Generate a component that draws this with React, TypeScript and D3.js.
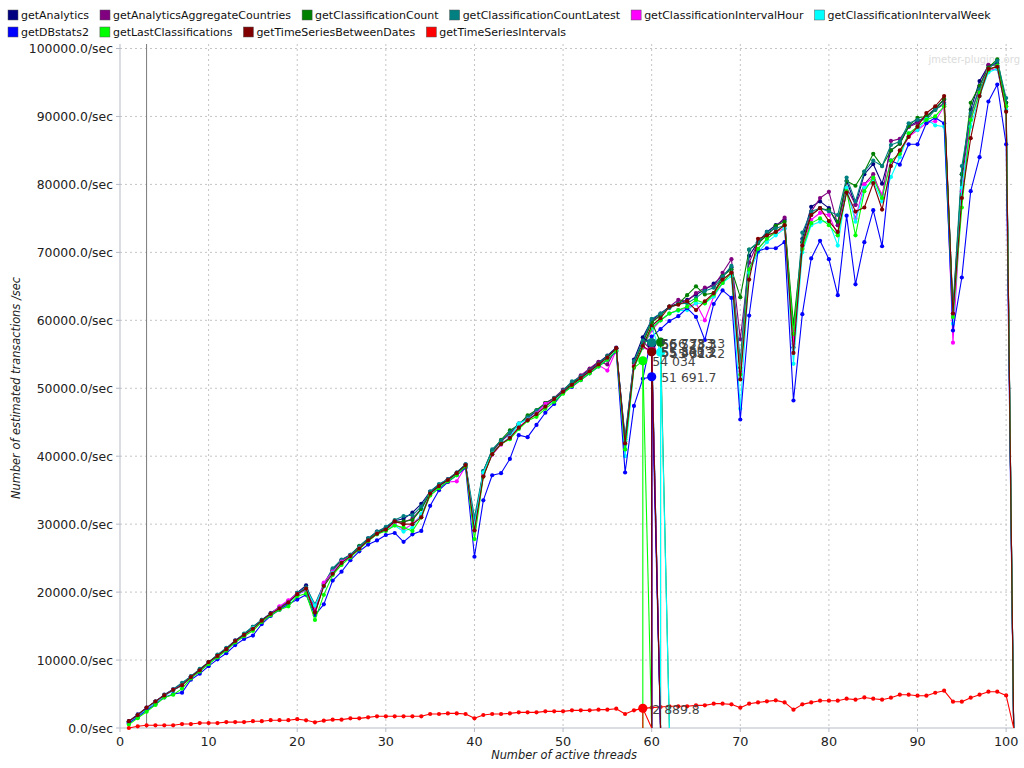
import React from 'react';
import * as d3 from 'd3';

// ---------- data ----------
const threads = d3.range(1, 101); // number of active threads 1..100
const lastThread = 100.85; // final zeroing point of every series

const seriesNames = [
  'getAnalytics',
  'getAnalyticsAggregateCountries',
  'getClassificationCount',
  'getClassificationCountLatest',
  'getClassificationIntervalHour',
  'getClassificationIntervalWeek',
  'getDBstats2',
  'getLastClassifications',
  'getTimeSeriesBetweenDates',
  'getTimeSeriesIntervals',
];

const seriesColors = [
  '#000080', '#800080', '#008000', '#008080', '#ff00ff',
  '#00ffff', '#0000ff', '#00ff00', '#800000', '#ff0000',
];

// values in thousands of transactions / sec, for threads 1..100
const getAnalytics = [
  1.0, 2.0, 3.0, 3.9, 4.9, 5.7, 6.5, 7.6, 8.6, 9.7,
  10.7, 11.7, 12.9, 13.8, 14.9, 15.9, 16.9, 17.8, 18.6, 19.9,
  21.0, 17.6, 21.2, 23.3, 24.7, 25.5, 26.7, 27.9, 28.9, 29.5,
  30.5, 30.8, 31.7, 33.0, 34.8, 35.8, 36.6, 37.6, 38.8, 30.0,
  37.8, 40.8, 42.3, 43.4, 44.8, 45.6, 46.6, 47.8, 48.5, 49.7,
  50.8, 51.7, 52.8, 53.8, 54.8, 56.0, 42.5, 54.2, 57.5, 60.0,
  61.0, 62.0, 62.5, 63.0, 63.8, 64.5, 65.4, 66.5, 67.8, 53.0,
  69.5, 71.5, 73.0, 74.0, 74.8, 56.0, 72.0, 76.7, 77.5, 76.5,
  74.0, 80.5, 77.0, 81.5, 83.0, 80.1, 85.0, 86.0, 88.5, 89.3,
  90.0, 91.2, 92.5, 61.0, 81.5, 91.0, 95.2, 97.5, 97.8, 92.0,
];
const getAnalyticsAggregateCountries = [
  0.9, 1.9, 2.9, 3.9, 4.8, 5.6, 6.4, 7.5, 8.5, 9.6,
  10.6, 11.6, 12.7, 13.6, 14.7, 15.7, 16.8, 17.8, 18.7, 19.8,
  20.6, 17.2, 21.2, 23.2, 24.6, 25.4, 26.6, 27.6, 28.7, 29.4,
  30.3, 30.3, 30.8, 32.3, 34.6, 35.7, 36.6, 37.4, 38.7, 29.8,
  37.4, 40.6, 42.2, 43.3, 44.7, 45.8, 46.6, 47.8, 48.6, 49.8,
  50.8, 51.9, 52.9, 53.9, 53.5, 55.9, 42.2, 53.8, 56.9, 59.8,
  60.8, 62.0, 63.0, 62.8, 64.0, 64.8, 65.0, 67.0, 69.0, 57.2,
  68.5, 71.5, 72.5, 73.8, 75.1, 57.0, 71.5, 76.0, 78.0, 78.9,
  74.0, 79.5, 77.0, 80.0, 81.5, 78.0, 86.4, 86.7, 88.5, 89.0,
  90.0, 91.0, 92.0, 60.5, 80.5, 90.0, 94.5, 97.6, 97.5, 91.5,
];
const getClassificationCount = [
  0.8, 1.8, 2.8, 3.8, 4.8, 5.6, 6.3, 7.5, 8.6, 9.6,
  10.7, 11.6, 12.7, 13.6, 14.8, 15.8, 16.7, 17.6, 18.4, 19.7,
  20.3, 16.8, 21.0, 23.2, 24.6, 25.4, 26.8, 27.8, 28.8, 29.3,
  30.3, 30.4, 30.6, 32.2, 34.6, 35.6, 36.5, 37.5, 38.7, 29.6,
  37.7, 40.8, 42.4, 43.8, 44.6, 46.0, 46.8, 47.8, 48.5, 49.6,
  50.7, 51.6, 52.6, 53.6, 54.7, 55.8, 41.7, 53.6, 56.7, 59.7,
  60.7, 62.0, 62.4, 63.7, 65.0, 63.8, 64.0, 66.5, 67.5, 63.4,
  70.4, 71.3, 72.5, 73.9, 74.5, 59.4, 71.5, 75.5, 76.5, 76.2,
  74.5, 80.5, 79.8, 81.9, 84.5, 82.7, 85.0, 86.0, 88.6, 89.8,
  90.0, 91.0, 92.6, 61.5, 81.5, 92.0, 94.5, 97.2, 98.4, 92.0,
];
const getClassificationCountLatest = [
  0.9, 1.9, 2.9, 3.9, 4.8, 5.7, 6.65, 7.6, 8.7, 9.7,
  10.8, 11.8, 12.8, 13.9, 14.9, 15.9, 16.8, 17.7, 18.6, 19.9,
  20.7, 18.2, 21.2, 23.5, 24.8, 25.5, 26.7, 27.9, 28.9, 29.6,
  30.6, 31.2, 31.3, 32.6, 34.8, 35.9, 36.6, 37.6, 38.8, 31.0,
  37.8, 41.0, 42.3, 43.5, 44.8, 45.7, 46.7, 47.6, 48.5, 49.7,
  51.0, 51.7, 52.6, 53.6, 54.7, 55.8, 42.8, 54.0, 57.0, 60.2,
  61.0, 61.8, 62.4, 62.5, 63.3, 64.3, 64.8, 66.4, 68.0, 54.0,
  70.4, 71.5, 73.0, 73.5, 74.0, 57.5, 72.9, 76.0, 76.5, 76.0,
  75.5, 81.0, 77.5, 81.9, 83.5, 82.7, 85.8, 86.3, 89.0, 89.5,
  89.5, 91.0, 91.8, 61.8, 82.7, 90.5, 94.0, 97.0, 98.2, 92.7,
];
const getClassificationIntervalHour = [
  0.8, 1.8, 2.8, 3.8, 4.7, 5.6, 6.3, 7.4, 8.4, 9.5,
  10.5, 11.5, 12.6, 13.5, 14.6, 15.6, 16.7, 17.9, 18.8, 19.7,
  20.2, 17.4, 21.4, 23.0, 24.5, 25.3, 26.4, 27.5, 28.6, 29.1,
  30.0, 29.2, 30.0, 31.3, 34.3, 35.3, 36.2, 36.3, 38.5, 29.0,
  37.2, 40.2, 41.7, 42.8, 44.2, 45.4, 46.3, 47.7, 48.3, 49.5,
  50.4, 51.4, 52.5, 53.4, 52.6, 55.6, 41.0, 53.3, 56.0, 58.5,
  60.0, 61.0, 61.5, 61.8, 62.5, 60.0, 63.5, 65.5, 67.0, 52.5,
  67.5, 70.5, 72.0, 73.0, 73.5, 56.5, 70.5, 74.8, 75.8, 75.5,
  72.5, 79.0, 75.0, 80.0, 81.0, 78.5, 83.5, 84.5, 87.0, 88.0,
  89.0, 89.3, 91.5, 56.7, 79.0, 89.5, 93.5, 96.8, 97.0, 91.0,
];
const getClassificationIntervalWeek = [
  0.8, 1.8, 2.8, 3.8, 4.7, 5.5, 6.3, 7.4, 8.4, 9.5,
  10.5, 11.5, 12.6, 13.6, 14.7, 15.7, 16.7, 17.6, 18.4, 19.6,
  20.4, 18.0, 20.8, 22.8, 24.3, 25.2, 26.4, 27.5, 28.6, 29.1,
  29.8, 28.9, 29.5, 31.5, 34.3, 35.4, 36.4, 37.3, 38.6, 29.8,
  37.6, 40.4, 41.8, 42.8, 44.8, 45.4, 46.2, 47.3, 48.2, 49.4,
  50.4, 51.3, 52.3, 53.3, 54.3, 55.6, 40.0, 53.0, 56.0, 59.0,
  60.0, 61.0, 61.4, 61.5, 62.5, 62.5, 63.5, 65.5, 66.5, 47.0,
  67.0, 70.0, 71.5, 72.5, 73.5, 53.6, 70.0, 74.0, 74.5, 74.5,
  71.0, 79.5, 74.5, 79.5, 80.5, 77.5, 81.1, 84.0, 87.5, 88.0,
  89.6, 88.7, 88.5, 59.5, 79.5, 88.5, 93.0, 96.5, 97.0, 91.0,
];
const getDBstats2 = [
  0.7, 1.6, 2.6, 3.5, 4.5, 5.0, 5.2, 7.1, 8.0, 9.1,
  10.1, 11.0, 12.2, 13.1, 13.6, 15.3, 16.5, 17.4, 18.2, 18.9,
  19.6, 16.6, 18.2, 21.7, 23.0, 24.7, 26.0, 27.0, 27.6, 28.4,
  28.7, 27.4, 28.5, 29.0, 32.7, 35.0, 36.2, 37.2, 38.3, 25.2,
  33.5, 37.2, 37.5, 39.6, 43.1, 42.8, 44.6, 46.4, 47.7, 49.4,
  50.2, 51.2, 52.2, 53.2, 54.2, 55.4, 37.6, 47.4, 51.4, 57.6,
  58.7, 59.9, 60.6, 61.8, 60.5, 57.1, 62.4, 64.4, 63.3, 45.4,
  60.7, 70.2, 70.6, 70.6, 71.5, 48.2, 60.9, 69.1, 71.7, 69.0,
  63.7, 75.4, 65.3, 71.5, 76.2, 70.9, 83.5, 82.9, 85.9, 85.9,
  89.0, 89.8, 89.0, 58.5, 66.3, 79.0, 84.0, 92.2, 94.7, 85.9,
];
const getLastClassifications = [
  0.5, 1.45, 2.4, 3.4, 4.5, 4.9, 5.8, 7.3, 8.3, 9.4,
  10.4, 11.4, 12.6, 13.5, 14.3, 15.6, 16.6, 17.4, 17.9, 19.4,
  19.8, 15.9, 19.6, 22.5, 24.0, 25.1, 26.3, 27.5, 28.5, 29.0,
  29.8, 29.5, 29.0, 31.0, 34.2, 35.3, 36.3, 37.2, 38.5, 27.8,
  37.0, 40.3, 41.8, 42.5, 44.0, 45.2, 45.8, 47.0, 48.0, 49.2,
  50.3, 51.2, 52.2, 53.2, 54.2, 55.5, 41.0, 53.0, 56.0, 58.8,
  60.0, 61.0, 61.5, 62.0, 63.0, 62.5, 63.8, 65.5, 67.0, 52.0,
  67.5, 70.5, 72.0, 73.0, 74.0, 58.0, 70.5, 74.3, 75.0, 74.0,
  72.5, 79.0, 72.5, 79.0, 81.0, 78.0, 83.5, 84.5, 87.5, 88.5,
  89.5, 90.0, 91.5, 60.5, 76.6, 89.5, 93.5, 96.8, 97.5, 91.5,
];
const getTimeSeriesBetweenDates = [
  1.0, 1.9, 3.0, 3.9, 4.8, 5.6, 6.3, 7.5, 8.5, 9.7,
  10.6, 11.6, 12.8, 13.7, 14.6, 15.8, 16.8, 17.6, 18.5, 19.7,
  20.5, 17.0, 20.9, 22.7, 24.3, 25.3, 26.4, 27.6, 28.6, 29.2,
  30.4, 30.0, 30.0, 31.0, 34.5, 35.6, 36.5, 37.5, 38.7, 29.1,
  37.0, 40.3, 41.8, 42.7, 44.2, 45.3, 46.2, 47.3, 48.4, 49.5,
  50.5, 51.5, 52.5, 53.5, 54.5, 55.9, 41.9, 53.2, 56.2, 59.2,
  60.3, 62.0, 62.3, 62.8, 61.5, 62.8, 64.0, 66.0, 67.0, 51.3,
  66.0, 72.0, 72.5, 73.0, 74.0, 55.2, 71.0, 75.5, 76.5, 74.6,
  73.0, 78.8, 76.0, 76.6, 80.2, 76.3, 82.7, 85.0, 87.0, 88.5,
  90.5, 91.5, 93.0, 61.0, 78.0, 86.8, 93.0, 97.0, 97.3, 90.7,
];
const getTimeSeriesIntervals = [
  0.0, 0.25, 0.4, 0.4, 0.4, 0.4, 0.58, 0.58, 0.73, 0.73,
  0.73, 0.87, 0.87, 0.87, 1.0, 1.0, 1.15, 1.15, 1.15, 1.3,
  1.13, 0.84, 1.08, 1.23, 1.23, 1.42, 1.42, 1.57, 1.72, 1.72,
  1.72, 1.72, 1.72, 1.72, 2.06, 2.06, 2.15, 2.15, 2.06, 1.42,
  1.91, 2.06, 2.06, 2.15, 2.3, 2.3, 2.3, 2.45, 2.45, 2.45,
  2.6, 2.6, 2.6, 2.7, 2.7, 2.84, 2.06, 2.6, 2.89, 3.0,
  3.09, 3.19, 3.19, 3.19, 3.33, 3.33, 3.58, 3.58, 3.48, 2.99,
  3.58, 3.77, 3.92, 4.07, 3.77, 2.7, 3.48, 3.77, 4.02, 4.02,
  4.02, 4.31, 4.17, 4.5, 4.31, 4.17, 4.46, 4.9, 4.9, 4.75,
  4.75, 5.19, 5.49, 3.87, 3.87, 4.46, 4.9, 5.34, 5.34, 4.8,
];

const seriesValuesK = [
  getAnalytics,
  getAnalyticsAggregateCountries,
  getClassificationCount,
  getClassificationCountLatest,
  getClassificationIntervalHour,
  getClassificationIntervalWeek,
  getDBstats2,
  getLastClassifications,
  getTimeSeriesBetweenDates,
  getTimeSeriesIntervals,
];

// highlighted values (big markers with labels) and the thread count where they sit
const markerThreads = [60, 60, 61, 60, 60, 61, 60, 59, 60, 59];
const markerValues = [56523.3, 55540.1, 56783.3, 56733.3, 55403.2, 55313.2, 51691.7, 54034, 55362.2, 2889.8];

const yTickValues = [0, 10000, 20000, 30000, 40000, 50000, 60000, 70000, 80000, 90000, 100000];
const xTickValues = [0, 10, 20, 30, 40, 50, 60, 70, 80, 90, 100];
const cursorThread = 3;

// ---------- helpers ----------
const FONT = '"DejaVu Sans", Verdana, sans-serif';

function fmtValue(v: number): string {
  const s = d3.format(',.1f')(v).replace(/,/g, ' ');
  return s.endsWith('.0') ? s.slice(0, -2) : s;
}

function legendLayout() {
  let ctx: CanvasRenderingContext2D | null = null;
  try {
    ctx = document.createElement('canvas').getContext('2d');
    if (ctx) ctx.font = '11px "DejaVu Sans"';
  } catch (e) {
    ctx = null;
  }
  const rows = [[0, 1, 2, 3, 4, 5], [6, 7, 8, 9]];
  const items: { i: number; sx: number; tx: number; base: number }[] = [];
  rows.forEach((row, r) => {
    let cx = 8;
    row.forEach((i) => {
      const w = ctx ? ctx.measureText(seriesNames[i]).width : seriesNames[i].length * 6.3;
      items.push({ i, sx: cx, tx: cx + 13, base: r === 0 ? 19 : 36 });
      cx += 13 + w + 11;
    });
  });
  return items;
}

export default function App() {
  const W = 1024;
  const H = 768;
  const left = 120;
  const right = 1015;
  const top = 44;
  const bottom = 728;

  const x = d3.scaleLinear().domain([0, 101]).range([left, right]);
  const y = d3.scaleLinear().domain([0, 100000]).range([bottom, 48.5]);
  const line = d3
    .line<[number, number]>()
    .x((d) => x(d[0]))
    .y((d) => y(d[1]));

  const legend = legendLayout();

  const seriesPoints = seriesValuesK.map((vals) =>
    threads.map((t, i) => [t, vals[i] * 1000] as [number, number])
  );

  return (
    <svg
      width={W}
      height={H}
      viewBox={`0 0 ${W} ${H}`}
      style={{ position: 'absolute', left: 0, top: 0, background: '#fff' }}
      fontFamily={FONT}
    >
      <rect x={0} y={0} width={W} height={H} fill="#ffffff" />

      {/* watermark */}
      <text x={1020} y={63} textAnchor="end" fontSize={10} fill="#dcdcdc">
        jmeter-plugins.org
      </text>

      {/* grid */}
      {yTickValues
        .filter((v) => v > 0)
        .map((v) => (
          <line key={'gy' + v} x1={left} x2={right} y1={y(v)} y2={y(v)} stroke="#c4c4c4" strokeDasharray="2,3" strokeWidth={1} />
        ))}
      {xTickValues
        .filter((v) => v > 0)
        .map((v) => (
          <line key={'gx' + v} x1={x(v)} x2={x(v)} y1={top} y2={bottom} stroke="#c4c4c4" strokeDasharray="2,3" strokeWidth={1} />
        ))}

      {/* cursor line */}
      <line x1={x(cursorThread)} x2={x(cursorThread)} y1={top} y2={bottom} stroke="#7a7a7a" strokeWidth={1} />

      {/* axes */}
      <line x1={left} x2={left} y1={top} y2={bottom} stroke="#b6bbc7" strokeWidth={1} />
      <line x1={left} x2={right} y1={bottom} y2={bottom} stroke="#b6bbc7" strokeWidth={1} />
      {yTickValues.map((v) => (
        <g key={'yt' + v}>
          <line x1={left - 4} x2={left} y1={y(v)} y2={y(v)} stroke="#b6bbc7" />
          <text x={113} y={y(v) + 4.5} textAnchor="end" fontSize={12.4} fill="#222">
            {`${v}.0/sec`}
          </text>
        </g>
      ))}
      {xTickValues.map((v) => (
        <g key={'xt' + v}>
          <line x1={x(v)} x2={x(v)} y1={bottom} y2={bottom + 4} stroke="#b6bbc7" />
          <text x={x(v)} y={746} textAnchor="middle" fontSize={12.8} fill="#222">
            {v}
          </text>
        </g>
      ))}

      {/* axis titles */}
      <text x={564} y={759} textAnchor="middle" fontSize={11.4} fontStyle="italic" fill="#222">
        Number of active threads
      </text>
      <text transform="translate(20,388) rotate(-90)" textAnchor="middle" fontSize={11.4} fontStyle="italic" fill="#222">
        Number of estimated transactions /sec
      </text>

      {/* series */}
      {seriesPoints.map((pts, s) => {
        const full = [...pts, [lastThread, 0] as [number, number]];
        return (
          <g key={'s' + s}>
            <path d={line(full) || ''} fill="none" stroke={seriesColors[s]} strokeWidth={1.1} strokeLinejoin="round" />
            {pts.map((p, i) => (
              <circle key={i} cx={x(p[0])} cy={y(p[1])} r={2.1} fill={seriesColors[s]} />
            ))}
          </g>
        );
      })}

      {/* drop lines from highlighted values */}
      {markerValues.map((v, s) => {
        const t = markerThreads[s];
        const prev = seriesPoints[s][t - 2];
        const p1: [number, number][] = [prev, [t, v], [t, 0]];
        const p2: [number, number][] = [[t, v], [t + 1, 0]];
        return (
          <g key={'d' + s}>
            <path d={line(p1) || ''} fill="none" stroke={seriesColors[s]} strokeWidth={1.1} />
            <path d={line(p2) || ''} fill="none" stroke={seriesColors[s]} strokeWidth={1.1} />
          </g>
        );
      })}
      {markerValues.map((v, s) => (
        <circle key={'m' + s} cx={x(markerThreads[s])} cy={y(v)} r={4.6} fill={seriesColors[s]} />
      ))}
      {markerValues.map((v, s) => (
        <text key={'ml' + s} x={x(markerThreads[s]) + 9.5} y={y(v) + 5.5} fontSize={12.4} fill="#444">
          {fmtValue(v)}
        </text>
      ))}

      {/* legend */}
      {legend.map((it) => (
        <g key={'lg' + it.i}>
          <rect x={it.sx} y={it.base - 9} width={10} height={10} fill={seriesColors[it.i]} stroke="#555" strokeWidth={0.5} />
          <text x={it.tx} y={it.base} fontSize={11} fill="#111">
            {seriesNames[it.i]}
          </text>
        </g>
      ))}
    </svg>
  );
}
